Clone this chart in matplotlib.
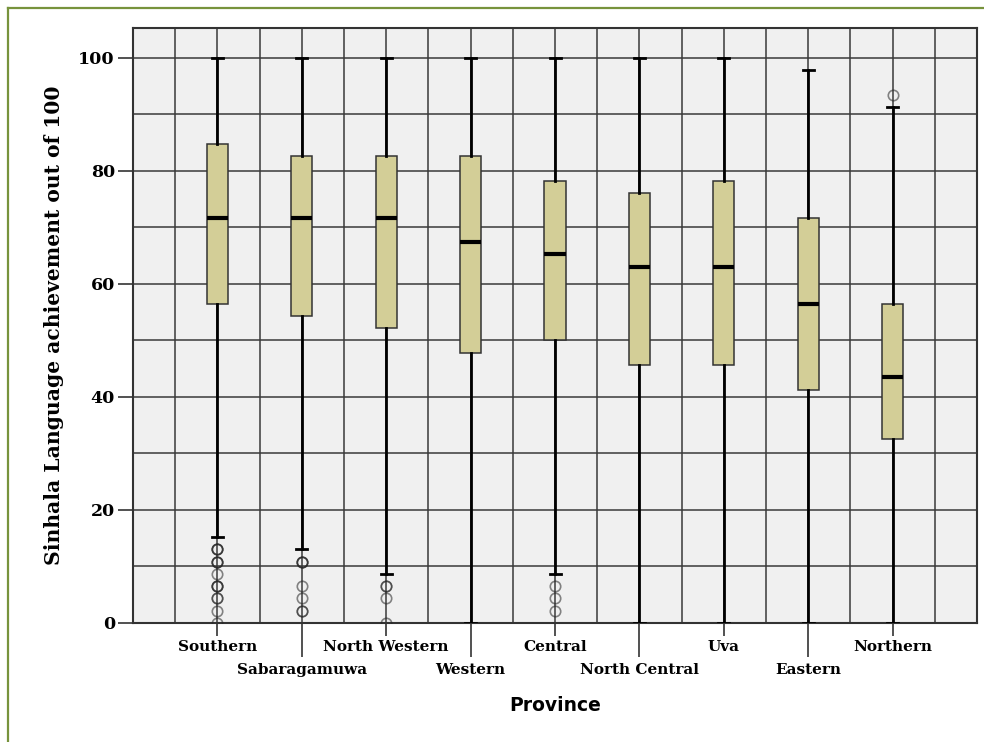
import numpy as np
import matplotlib
matplotlib.use("Agg")
import matplotlib.pyplot as plt
from matplotlib.lines import Line2D
from matplotlib.ticker import FixedLocator, FixedFormatter

# Province summary statistics (scores out of 100)
provinces = ["Southern", "Sabaragamuwa", "North Western", "Western", "Central",
             "North Central", "Uva", "Eastern", "Northern"]
q1 = [56.52, 54.35, 52.17, 47.83, 50.00, 45.65, 45.65, 41.30, 32.61]
median = [71.74, 71.74, 71.74, 67.39, 65.22, 63.04, 63.04, 56.52, 43.48]
q3 = [84.78, 82.61, 82.61, 82.61, 78.26, 76.09, 78.26, 71.74, 56.52]
whisker_low = [15.22, 13.04, 8.70, 0.0, 8.70, 0.0, 0.0, 0.0, 0.0]
whisker_high = [100.0, 100.0, 100.0, 100.0, 100.0, 100.0, 100.0, 97.83, 91.30]

# outliers per province: (value, how many overlapping points)
outliers = [
    [(13.04, 3), (10.87, 3), (8.70, 1), (6.52, 3), (4.35, 2), (2.17, 1), (0.0, 1)],
    [(10.87, 3), (6.52, 1), (4.35, 1), (2.17, 2)],
    [(6.52, 2), (4.35, 1), (0.0, 1)],
    [],
    [(6.52, 1), (4.35, 1), (2.17, 1)],
    [],
    [],
    [],
    [(93.48, 1)],
]

box_color = "#D3CE97"
grid_color = "#3a3a3a"
positions = np.arange(1, len(provinces) + 1)

fig = plt.figure(figsize=(9.84, 7.42), dpi=100)
ax = fig.add_axes([0.1352, 0.1604, 0.8577, 0.8019])
ax.set_facecolor("#F0F0F0")

# grid: vertical every half category, horizontal every 10 points
for gx in np.arange(0.5, 10, 0.5):
    ax.axvline(gx, color=grid_color, lw=1.1, zorder=1)
for gy in np.arange(10, 110, 10):
    ax.axhline(gy, color=grid_color, lw=1.1, zorder=1)

stats = []
for i, name in enumerate(provinces):
    stats.append({
        "label": name,
        "q1": q1[i], "med": median[i], "q3": q3[i],
        "whislo": whisker_low[i], "whishi": whisker_high[i],
        "fliers": [],
    })

ax.bxp(stats, positions=positions, widths=0.25, capwidths=0.13,
       patch_artist=True, showfliers=False, manage_ticks=False,
       boxprops=dict(facecolor=box_color, edgecolor="#333333", lw=1.1),
       medianprops=dict(color="black", lw=3),
       whiskerprops=dict(color="black", lw=2),
       capprops=dict(color="black", lw=2),
       zorder=3)

# outlier circles, repeated points overlap and look darker
for pos, pts in zip(positions, outliers):
    for val, n in pts:
        for _ in range(n):
            ax.plot(pos, val, marker="o", ms=7.5, mfc="none",
                    mec=(0.15, 0.15, 0.15, 0.55), mew=1.2, zorder=4)

ax.set_xlim(0, 10)
ax.set_ylim(0, 105.3)

for s in ax.spines.values():
    s.set_color("#333333")
    s.set_linewidth(1.5)

serif = dict(family="DejaVu Serif", weight="bold")

ax.set_yticks([0, 20, 40, 60, 80, 100])
ax.set_yticklabels(["0", "20", "40", "60", "80", "100"], fontsize=12.5, **serif)
ax.tick_params(axis="y", length=11, width=1.2, pad=2, color="#333333")

# x labels staggered on two rows
ax.xaxis.set_major_locator(FixedLocator(positions[0::2]))
ax.xaxis.set_major_formatter(FixedFormatter(provinces[0::2]))
ax.xaxis.set_minor_locator(FixedLocator(positions[1::2]))
ax.xaxis.set_minor_formatter(FixedFormatter(provinces[1::2]))
ax.tick_params(axis="x", which="major", length=9.5, width=1.2, pad=3,
               color="#333333")
ax.tick_params(axis="x", which="minor", length=24.5, width=1.2, pad=4,
               color="#333333")
for lbl in ax.get_xticklabels(which="both"):
    lbl.set_fontsize(11)
    lbl.set_family("DejaVu Serif")
    lbl.set_weight("bold")

ax.set_ylabel("Sinhala Language achievement out of 100", fontsize=14.6,
              **serif)
ax.yaxis.set_label_coords(-0.082, 0.5)
ax.set_xlabel("Province", fontsize=13.5, family="DejaVu Sans",
              weight="bold", labelpad=14)

# olive frame on the left and top of the figure
frame = "#77933C"
fig.add_artist(Line2D([8 / 984, 8 / 984], [0, 1 - 8 / 742], color=frame,
                      lw=1.6, transform=fig.transFigure))
fig.add_artist(Line2D([8 / 984, 1], [1 - 8 / 742, 1 - 8 / 742], color=frame,
                      lw=1.6, transform=fig.transFigure))

fig.savefig("out.png", dpi=100)
